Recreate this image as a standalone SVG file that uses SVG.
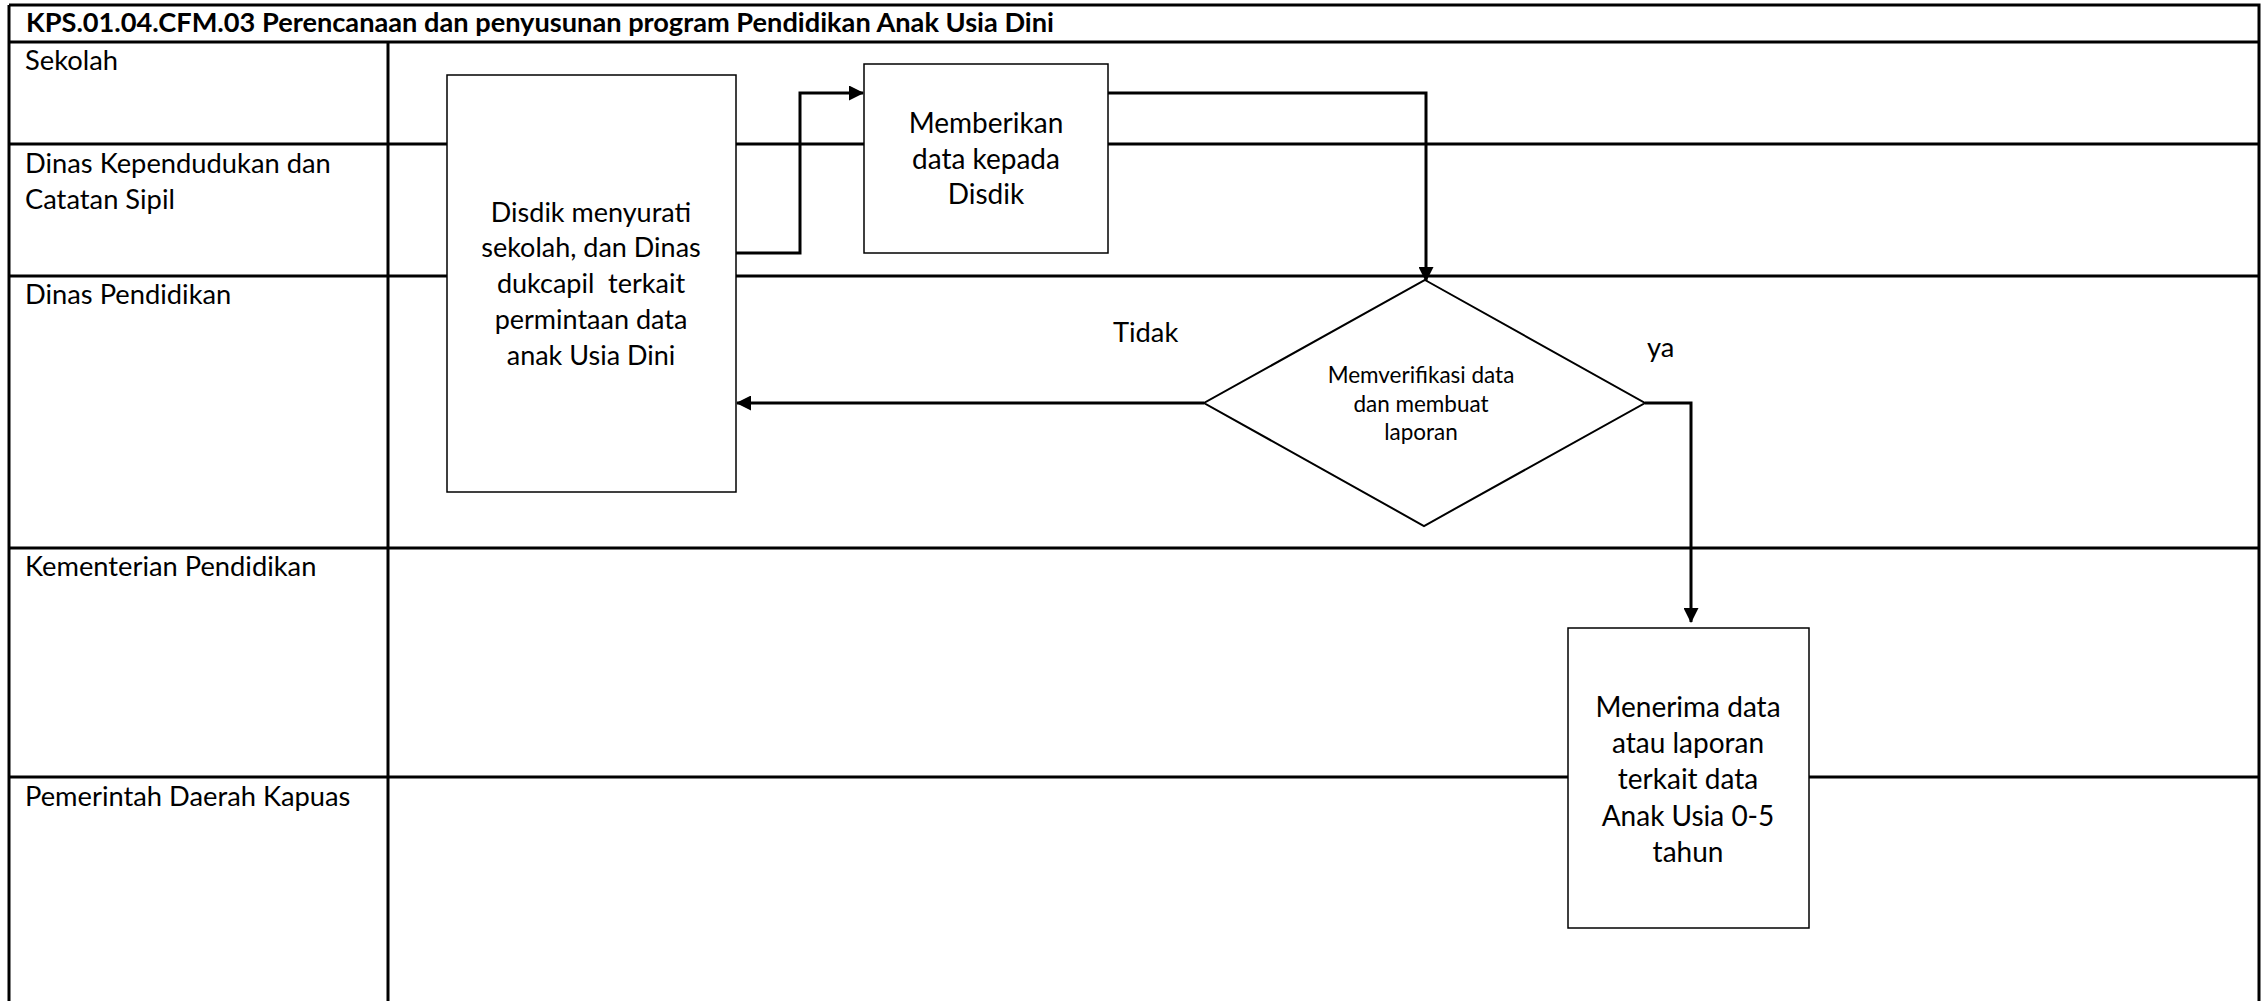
<svg xmlns="http://www.w3.org/2000/svg" width="2267" height="1001" viewBox="0 0 2267 1001">
<defs>
<style>
.lane{stroke:#000;stroke-width:3;fill:none}
.box{fill:#fff;stroke:#000;stroke-width:1.5}
.conn{fill:none;stroke:#000;stroke-width:3}
.t{font-family:Lato,"Open Sans",sans-serif;fill:#000}
.lbl{font-size:27.3px}
.bx{font-size:27px;text-anchor:middle}
.bx2{font-size:28px;text-anchor:middle}
.dm{font-size:22.5px;text-anchor:middle}
.title{font-size:27.2px;font-weight:bold}
</style>
<marker id="ah" markerWidth="15" markerHeight="15" refX="14" refY="7.5" orient="auto" markerUnits="userSpaceOnUse">
<path d="M0,0 L15,7.5 L0,15 Z" fill="#000"/>
</marker>
</defs>
<rect width="2267" height="1001" fill="#fff"/>
<g id="lanes">
<path class="lane" d="M9,5 H2259 V1001 M9,5 V1001 M9,42 H2259 M9,144 H2259 M9,276 H2259 M9,548 H2259 M9,777 H2259 M388,42 V1001"/>
<text class="t title" x="26" y="32">KPS.01.04.CFM.03 Perencanaan dan penyusunan program Pendidikan Anak Usia Dini</text>
<text class="t lbl" x="25" y="70">Sekolah</text>
<text class="t lbl" x="25" y="173">Dinas Kependudukan dan</text>
<text class="t lbl" x="25" y="209">Catatan Sipil</text>
<text class="t lbl" x="25" y="304">Dinas Pendidikan</text>
<text class="t lbl" x="25" y="576">Kementerian Pendidikan</text>
<text class="t lbl" x="25" y="806">Pemerintah Daerah Kapuas</text>
</g>
<g id="connectors">
<path class="conn" d="M736,253 H800 V93 H863" marker-end="url(#ah)"/>
<path class="conn" d="M1108,93 H1426 V281" marker-end="url(#ah)"/>
<path class="conn" d="M1204,403 H737" marker-end="url(#ah)"/>
<path class="conn" d="M1645,403 H1691 V622" marker-end="url(#ah)"/>
<text class="t lbl" x="1113" y="342">Tidak</text>
<text class="t lbl" x="1647" y="357">ya</text>
</g>
<g id="node-disdik">
<rect class="box" x="447" y="75" width="289" height="417"/>
<text class="t bx" x="591" y="222">Disdik menyurati</text>
<text class="t bx" x="591" y="257">sekolah, dan Dinas</text>
<text class="t bx" x="591" y="293" style="white-space:pre">dukcapil  terkait</text>
<text class="t bx" x="591" y="329">permintaan data</text>
<text class="t bx" x="591" y="365">anak Usia Dini</text>
</g>
<g id="node-memberikan">
<rect class="box" x="864" y="64" width="244" height="189"/>
<text class="t bx2" x="986" y="133">Memberikan</text>
<text class="t bx2" x="986" y="169">data kepada</text>
<text class="t bx2" x="986" y="204">Disdik</text>
</g>
<g id="node-verifikasi">
<path d="M1425,280 L1645,403 L1424,526 L1204,403 Z" fill="#fff" stroke="#000" stroke-width="2"/>
<text class="t dm" x="1421" y="383">Memverifikasi data</text>
<text class="t dm" x="1421" y="412">dan membuat</text>
<text class="t dm" x="1421" y="440">laporan</text>
</g>
<g id="node-menerima">
<rect class="box" x="1568" y="628" width="241" height="300"/>
<text class="t bx2" x="1688" y="717">Menerima data</text>
<text class="t bx2" x="1688" y="753">atau laporan</text>
<text class="t bx2" x="1688" y="789">terkait data</text>
<text class="t bx2" x="1688" y="826">Anak Usia 0-5</text>
<text class="t bx2" x="1688" y="862">tahun</text>
</g>
</svg>
